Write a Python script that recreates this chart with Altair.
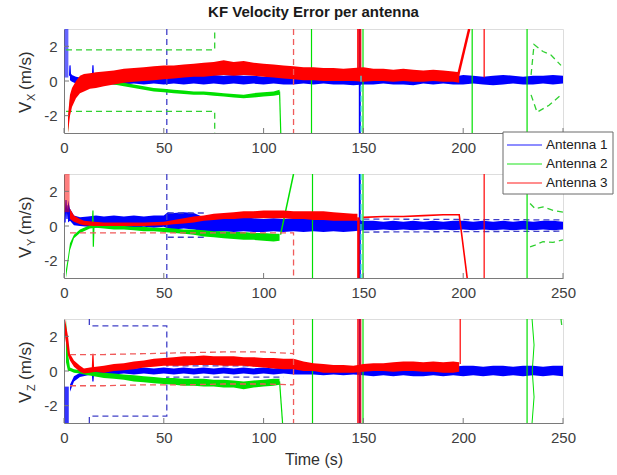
import altair as alt
import pandas as pd

TITLE = "KF Velocity Error per antenna"
X_TITLE = "Time (s)"
Y_SUBS = ["X", "Y", "Z"]
Y_UNIT = "(m/s)"
LEGEND_LABELS = ["Antenna 1", "Antenna 2", "Antenna 3"]
ANT_KEYS = ["A1", "A2", "A3", "C"]
ANT_COLORS = ["#0000ff", "#00e000", "#ff0000", "#00e0e0"]
DASH_COLORS = ["#4040c8", "#30d030", "#f05a5a", "#30e0e0"]
X_TICKS = [0, 50, 100, 150, 200, 250]
Y_TICKS = [-2, 0, 2]
FONT = "Liberation Sans"

# ---------------- V_X panel ----------------
VX_A1_PATCH = [(0.3, 0.2, 3.0), (2.2, 0.2, 3.0)]
VX_A1_BAND = [
    (3, 0.05, 0.5), (4, -0.05, 0.35), (6, -0.15, 0.25), (8, -0.15, 0.2), (12, -0.1, 0.25),
    (16, -0.2, 0.2), (20, -0.15, 0.3), (25, -0.2, 0.25), (30, -0.2, 0.3), (35, -0.15, 0.35),
    (40, -0.2, 0.3), (45, -0.15, 0.35), (50, -0.2, 0.4), (55, -0.15, 0.35), (60, -0.2, 0.3),
    (65, -0.15, 0.35), (70, -0.2, 0.3), (75, -0.15, 0.35), (80, -0.2, 0.3), (85, -0.15, 0.35),
    (90, -0.2, 0.3), (95, -0.15, 0.3), (100, -0.2, 0.25), (105, -0.15, 0.3), (110, -0.2, 0.25),
    (115, -0.2, 0.3), (120, -0.15, 0.25), (125, -0.2, 0.3), (130, -0.15, 0.25), (135, -0.2, 0.3),
    (140, -0.2, 0.3), (145, -0.25, 0.25), (150, -0.2, 0.3), (155, -0.2, 0.25), (160, -0.15, 0.3),
    (165, -0.2, 0.25), (170, -0.2, 0.3), (175, -0.25, 0.25), (180, -0.15, 0.3), (185, -0.2, 0.25),
    (190, -0.15, 0.3), (195, -0.2, 0.25), (200, -0.2, 0.35), (205, -0.15, 0.3), (210, -0.2, 0.25),
    (215, -0.25, 0.3), (220, -0.2, 0.35), (225, -0.15, 0.3), (230, -0.2, 0.25), (235, -0.2, 0.3),
    (240, -0.15, 0.3), (245, -0.2, 0.35), (250, -0.15, 0.3),
]
VX_A2_BAND = [
    (2, -3.0, -2.6), (3, -1.3, -1.0), (5, -0.7, -0.45), (8, -0.4, -0.2), (12, -0.25, -0.05),
    (16, -0.15, 0.05), (20, -0.1, 0.1), (25, -0.2, 0.0), (30, -0.3, -0.1), (35, -0.4, -0.2),
    (40, -0.5, -0.3), (45, -0.6, -0.4), (50, -0.65, -0.45), (55, -0.7, -0.5), (60, -0.75, -0.55),
    (65, -0.8, -0.6), (70, -0.8, -0.6), (75, -0.85, -0.65), (80, -0.9, -0.7), (85, -0.95, -0.75),
    (90, -1.0, -0.8), (95, -0.95, -0.7), (100, -0.9, -0.65), (105, -0.85, -0.6), (108, -0.8, -0.5),
]
VX_A3_BAND = [
    (2, -3.0, -2.0), (3, -2.0, -0.8), (4, -1.5, -0.4), (6, -1.0, 0.0), (8, -0.7, 0.3),
    (10, -0.6, 0.4), (13, -0.45, 0.45), (16, -0.4, 0.5), (20, -0.3, 0.55), (25, -0.2, 0.6),
    (30, -0.1, 0.7), (35, -0.05, 0.75), (40, 0.0, 0.8), (45, 0.05, 0.85), (50, 0.1, 0.9),
    (55, 0.15, 0.9), (60, 0.2, 0.95), (65, 0.25, 1.0), (70, 0.25, 1.05), (75, 0.3, 1.1),
    (80, 0.35, 1.2), (85, 0.3, 1.1), (90, 0.35, 1.15), (95, 0.3, 1.05), (100, 0.25, 1.0),
    (105, 0.2, 0.95), (110, 0.15, 0.9), (115, 0.1, 0.85), (120, 0.05, 0.8), (125, 0.05, 0.8),
    (130, 0.0, 0.75), (135, 0.0, 0.75), (140, 0.0, 0.7), (145, 0.0, 0.75), (150, -0.05, 0.8),
    (155, 0.0, 0.7), (160, 0.0, 0.7), (165, -0.05, 0.65), (170, 0.0, 0.7), (175, -0.05, 0.65),
    (180, -0.05, 0.6), (185, 0.0, 0.65), (190, -0.05, 0.6), (195, -0.05, 0.55), (198, -0.1, 0.5),
]
VX_A3_SPIKE = [(146.8, 0.4, 3.0), (149.0, 0.4, 3.0)]

VX_LINES = [
    ("A1", [(2.8, 0.3), (3.0, 0.9), (3.3, 0.2)], 1.2),
    ("A1", [(14.2, 0.1), (14.5, 0.9), (14.8, 0.1)], 1.2),
    ("A1", [(148.2, 3.0), (148.2, -3.0)], 2.0),
    ("A2", [(108.0, -0.6), (108.6, -3.0)], 1.2),
    ("A2", [(124.0, 3.0), (124.0, -3.0)], 1.2),
    ("A2", [(149.8, 3.0), (149.8, -3.0)], 1.2),
    ("A2", [(204.5, 3.0), (204.5, -3.0)], 1.2),
    ("A2", [(232.0, 3.0), (232.0, -3.0)], 1.2),
    ("A3", [(197.0, 0.1), (203.0, 3.0)], 2.5),
    ("A3", [(210.5, 3.0), (210.5, 0.2)], 1.2),
]
VX_DASHES = [
    ("A1", [(51.5, 3.0), (51.5, -3.0)]),
    ("A2", [(1.0, 1.8), (75.5, 1.8), (75.5, 3.0)]),
    ("A2", [(1.0, -1.75), (75.5, -1.75), (75.5, -3.0)]),
    ("A2", [(234.0, 0.35), (235.5, 2.1), (240.0, 1.7), (244.0, 1.5), (249.0, 0.9)]),
    ("A2", [(234.0, -0.8), (237.0, -1.8), (243.0, -1.4), (249.0, -0.8)]),
    ("A3", [(115.0, 3.0), (115.0, -3.0)]),
    ("C", [(148.8, 0.3), (148.8, -3.0)]),
]

# ---------------- V_Y panel ----------------
VY_A1_BAND = [
    (2, 0.2, 1.5), (3, 0.3, 1.0), (5, 0.05, 0.6), (8, 0.0, 0.5), (12, -0.05, 0.55),
    (16, -0.1, 0.6), (20, 0.0, 0.55), (25, -0.05, 0.6), (30, -0.05, 0.55), (35, -0.1, 0.6),
    (40, -0.05, 0.55), (45, -0.1, 0.6), (50, -0.05, 0.6), (52, -0.15, 0.8), (55, -0.2, 0.75),
    (60, -0.15, 0.8), (65, -0.2, 0.75), (70, -0.3, 0.5), (75, -0.35, 0.45), (80, -0.3, 0.5),
    (85, -0.35, 0.45), (90, -0.3, 0.5), (95, -0.35, 0.45), (100, -0.35, 0.4), (105, -0.3, 0.45),
    (110, -0.35, 0.4), (115, -0.3, 0.45), (120, -0.35, 0.4), (125, -0.3, 0.4), (130, -0.35, 0.4),
    (135, -0.3, 0.35), (140, -0.35, 0.4), (145, -0.3, 0.35), (150, -0.25, 0.3), (155, -0.25, 0.3),
    (160, -0.2, 0.25), (165, -0.25, 0.3), (170, -0.2, 0.25), (175, -0.25, 0.3), (180, -0.2, 0.25),
    (185, -0.25, 0.3), (190, -0.2, 0.25), (195, -0.25, 0.3), (200, -0.2, 0.3), (205, -0.25, 0.25),
    (210, -0.2, 0.3), (215, -0.25, 0.25), (220, -0.2, 0.3), (225, -0.25, 0.25), (230, -0.2, 0.3),
    (235, -0.25, 0.25), (240, -0.2, 0.3), (245, -0.25, 0.3), (250, -0.2, 0.25),
]
VY_A2_BAND = [
    (1, -3.0, -2.5), (2, -2.2, -1.8), (3, -1.4, -1.0), (5, -0.7, -0.5), (8, -0.4, -0.2),
    (10, -0.3, -0.1), (13, -0.15, 0.05), (16, -0.1, 0.1), (20, -0.15, 0.05), (25, -0.2, 0.0),
    (30, -0.2, 0.0), (35, -0.25, -0.05), (40, -0.3, -0.05), (45, -0.3, -0.1), (50, -0.35, -0.1),
    (55, -0.4, -0.15), (60, -0.45, -0.2), (65, -0.5, -0.2), (70, -0.6, -0.25), (75, -0.65, -0.3),
    (80, -0.7, -0.3), (85, -0.75, -0.35), (90, -0.8, -0.35), (95, -0.8, -0.4), (100, -0.85, -0.4),
    (105, -0.9, -0.45), (108, -0.85, -0.45),
]
VY_A3_PATCH = [(0.3, 0.8, 3.0), (2.8, 0.8, 3.0)]
VY_A3_BAND = [
    (3, 0.4, 1.0), (5, 0.25, 0.6), (8, 0.1, 0.4), (10, 0.05, 0.3), (15, 0.0, 0.25),
    (20, 0.0, 0.2), (30, 0.0, 0.2), (40, 0.0, 0.2), (50, 0.05, 0.25), (55, 0.1, 0.35),
    (60, 0.15, 0.45), (65, 0.2, 0.55), (70, 0.3, 0.6), (75, 0.35, 0.7), (80, 0.4, 0.75),
    (85, 0.4, 0.8), (90, 0.45, 0.85), (95, 0.45, 0.85), (100, 0.45, 0.9), (105, 0.45, 0.9),
    (110, 0.45, 0.9), (115, 0.4, 0.85), (120, 0.4, 0.85), (125, 0.35, 0.85), (130, 0.35, 0.85),
    (135, 0.3, 0.8), (140, 0.3, 0.75), (145, 0.3, 0.7), (147, 0.3, 0.7),
]
VY_LINES = [
    ("A1", [(0.5, 0.2), (1.0, 1.5), (1.5, 0.4), (2.0, 1.2), (2.5, 0.3)], 1.2),
    ("A1", [(148.2, 3.0), (148.2, -3.0)], 2.0),
    ("A2", [(14.2, 0.0), (14.5, 0.9), (14.7, -1.2), (15.0, 0.0)], 1.2),
    ("A2", [(108.5, -0.5), (115.0, 3.0)], 1.5),
    ("A2", [(124.5, 3.0), (124.5, -3.0)], 1.2),
    ("A2", [(149.8, 3.0), (149.8, -3.0)], 1.2),
    ("A2", [(232.0, 3.0), (232.0, -3.0)], 1.2),
    ("A3", [(150.0, 0.5), (160.0, 0.55), (170.0, 0.55), (180.0, 0.6), (190.0, 0.65),
            (198.0, 0.65), (202.0, -3.0)], 1.6),
    ("A3", [(147.5, 0.5), (147.5, -3.0)], 2.5),
    ("A3", [(210.5, 3.0), (210.5, -3.0)], 1.2),
]
VY_DASHES = [
    ("A1", [(51.5, 3.0), (51.5, -3.0)]),
    ("A1", [(52.0, 0.75), (71.0, 0.75)]),
    ("A1", [(52.0, -0.65), (71.0, -0.65)]),
    ("A1", [(150.0, 0.4), (250.0, 0.35)]),
    ("A1", [(150.0, -0.35), (250.0, -0.3)]),
    ("A2", [(233.5, 1.3), (236.0, 1.0), (240.0, 1.1), (245.0, 0.9), (250.0, 0.8)]),
    ("A2", [(233.5, -1.2), (236.0, -1.1), (240.0, -0.9), (245.0, -0.95), (250.0, -0.8)]),
    ("A3", [(3.0, -0.4), (115.0, -0.4), (115.0, -3.0)]),
    ("C", [(148.8, 3.0), (148.8, -3.0)]),
]

# ---------------- V_Z panel ----------------
VZ_A1_PATCH = [(0.3, -3.0, -0.9), (2.4, -3.0, -0.9)]
VZ_A1_BAND = [
    (3, -1.2, -0.8), (5, -0.6, -0.3), (8, -0.35, -0.1), (12, -0.25, 0.0), (16, -0.2, 0.05),
    (20, -0.2, 0.1), (25, -0.2, 0.15), (30, -0.15, 0.15), (35, -0.2, 0.15), (40, -0.15, 0.2),
    (45, -0.2, 0.15), (50, -0.15, 0.2), (55, -0.2, 0.15), (60, -0.15, 0.2), (65, -0.2, 0.15),
    (70, -0.15, 0.2), (75, -0.2, 0.15), (80, -0.15, 0.2), (85, -0.2, 0.15), (90, -0.15, 0.2),
    (95, -0.2, 0.15), (100, -0.15, 0.2), (105, -0.2, 0.15), (110, -0.15, 0.2), (115, -0.2, 0.15),
    (120, -0.2, 0.2), (125, -0.2, 0.15), (130, -0.25, 0.2), (135, -0.2, 0.2), (140, -0.25, 0.15),
    (145, -0.2, 0.2), (150, -0.25, 0.25), (155, -0.3, 0.25), (160, -0.25, 0.3), (165, -0.3, 0.25),
    (170, -0.25, 0.3), (175, -0.3, 0.25), (180, -0.3, 0.3), (185, -0.25, 0.25), (190, -0.3, 0.3),
    (195, -0.25, 0.25), (200, -0.3, 0.3), (205, -0.25, 0.3), (210, -0.3, 0.25), (215, -0.25, 0.3),
    (220, -0.3, 0.3), (225, -0.25, 0.25), (230, -0.3, 0.3), (235, -0.25, 0.3), (240, -0.3, 0.25),
    (245, -0.25, 0.3), (250, -0.3, 0.3),
]
VZ_A2_BAND = [
    (1, 0.5, 3.0), (2, 0.0, 1.0), (3, 0.0, 0.2), (5, -0.1, 0.1), (8, -0.15, 0.05),
    (10, -0.2, 0.0), (15, -0.3, -0.05), (20, -0.4, -0.1), (25, -0.45, -0.15), (30, -0.5, -0.2),
    (35, -0.6, -0.25), (40, -0.65, -0.3), (45, -0.7, -0.35), (50, -0.75, -0.4), (55, -0.8, -0.4),
    (60, -0.85, -0.45), (65, -0.85, -0.45), (70, -0.9, -0.45), (75, -0.9, -0.5), (80, -0.95, -0.5),
    (85, -0.95, -0.55), (90, -1.05, -0.6), (95, -0.95, -0.55), (100, -0.9, -0.5), (105, -0.85, -0.45),
    (108, -0.8, -0.45),
]
VZ_A3_BAND = [
    (0.5, 2.0, 3.0), (2, 0.9, 2.0), (3, 0.6, 1.0), (5, 0.25, 0.6), (8, -0.05, 0.3),
    (10, -0.15, 0.15), (13, -0.1, 0.2), (16, -0.05, 0.25), (20, -0.1, 0.3), (25, 0.0, 0.4),
    (30, 0.05, 0.45), (35, 0.1, 0.55), (40, 0.2, 0.6), (45, 0.25, 0.7), (50, 0.3, 0.75),
    (55, 0.3, 0.8), (60, 0.3, 0.85), (65, 0.35, 0.85), (70, 0.35, 0.9), (75, 0.35, 0.85),
    (80, 0.3, 0.85), (85, 0.3, 0.85), (90, 0.3, 0.8), (95, 0.25, 0.8), (100, 0.2, 0.75),
    (105, 0.15, 0.75), (110, 0.1, 0.7), (115, 0.1, 0.7), (120, 0.0, 0.55), (125, 0.0, 0.45),
    (130, -0.1, 0.4), (135, -0.1, 0.35), (140, -0.1, 0.35), (145, -0.1, 0.3), (150, -0.05, 0.4),
    (155, 0.0, 0.45), (160, 0.0, 0.45), (165, -0.05, 0.5), (170, 0.0, 0.55), (175, 0.0, 0.55),
    (180, -0.05, 0.5), (185, -0.05, 0.55), (190, -0.1, 0.5), (195, -0.1, 0.55), (198, -0.05, 0.5),
]
VZ_A3_SPIKE = [(146.8, -3.0, 3.0), (149.0, -3.0, 3.0)]
VZ_LINES = [
    ("A1", [(14.2, -0.1), (14.5, -0.6), (14.8, -0.1)], 1.2),
    ("A1", [(148.2, 3.0), (148.2, -3.0)], 2.0),
    ("A2", [(108.0, -0.6), (109.5, -3.0)], 1.2),
    ("A2", [(124.5, 3.0), (124.5, -3.0)], 1.2),
    ("A2", [(149.8, 3.0), (149.8, -3.0)], 1.2),
    ("A2", [(232.0, 3.0), (232.0, -3.0)], 1.2),
    ("A2", [(234.5, 3.0), (235.5, 1.5), (234.6, 0.0), (235.5, -1.5), (234.5, -3.0)], 1.0),
    ("A3", [(14.2, 0.1), (14.5, 1.0), (14.8, 0.1)], 1.2),
    ("A3", [(198.5, 0.4), (198.5, 3.0)], 1.2),
]
VZ_DASHES = [
    ("A1", [(12.7, 3.0), (12.7, 2.6), (51.5, 2.6), (51.5, 0.3), (110.0, 0.3)]),
    ("A1", [(12.7, -3.0), (12.7, -2.6), (51.5, -2.6), (51.5, -0.35), (110.0, -0.35)]),
    ("A2", [(249.0, 3.0), (249.5, 2.5)]),
    ("A3", [(3.0, 0.95), (20.0, 0.95), (40.0, 1.0), (60.0, 1.05), (80.0, 1.1), (100.0, 1.1), (115.0, 1.0)]),
    ("A3", [(3.0, -0.85), (20.0, -0.85), (40.0, -0.8), (60.0, -0.8), (80.0, -0.75), (100.0, -0.75), (115.0, -0.8)]),
    ("A3", [(115.0, 3.0), (115.0, -3.0)]),
]

PANELS = [
    {
        "bands": [("A1", VX_A1_PATCH, 0.6), ("A1", VX_A1_BAND, 1.0), ("A2", VX_A2_BAND, 1.0),
                  ("A3", VX_A3_BAND, 1.0), ("A3", VX_A3_SPIKE, 0.85)],
        "lines": VX_LINES, "dashes": VX_DASHES,
    },
    {
        "bands": [("A1", VY_A1_BAND, 1.0), ("A2", VY_A2_BAND, 1.0),
                  ("A3", VY_A3_PATCH, 0.5), ("A3", VY_A3_BAND, 1.0)],
        "lines": VY_LINES, "dashes": VY_DASHES,
    },
    {
        "bands": [("A1", VZ_A1_PATCH, 0.8), ("A1", VZ_A1_BAND, 1.0), ("A2", VZ_A2_BAND, 1.0),
                  ("A3", VZ_A3_BAND, 1.0), ("A3", VZ_A3_SPIKE, 0.75)],
        "lines": VZ_LINES, "dashes": VZ_DASHES,
    },
]

W, H = 499, 104
XS = alt.Scale(domain=[0, 250], nice=False, zero=False)
YS = alt.Scale(domain=[-3, 3], nice=False, zero=False)


def x_axis(title, values):
    return alt.Axis(values=values, title=title, labelFontSize=15, labelColor="#404040",
                    labelFont=FONT, domainColor="#7a7a7a", ticks=False, grid=False,
                    labelPadding=7, titleFontSize=16, titleFontWeight="normal",
                    titleColor="#303030", titleFont=FONT, titlePadding=6, labelFlush=False)


Y_AXIS = alt.Axis(values=Y_TICKS, title=None, labelFontSize=15, labelColor="#404040",
                  labelFont=FONT, domainColor="#7a7a7a", ticks=False, grid=False,
                  labelPadding=7, labelExpr="'' + datum.value")


def panel(idx, spec):
    xt = X_TITLE if idx == 2 else None
    # in the top panel the legend box hides the last tick label
    xv = X_TICKS[:-1] if idx == 0 else X_TICKS
    X = lambda f: alt.X(f, type="quantitative", scale=XS, axis=x_axis(xt, xv))
    Y = lambda f: alt.Y(f, type="quantitative", scale=YS, axis=Y_AXIS)

    band_rows, line_rows, dash_rows = [], [], []
    for g, (ant, rows, op) in enumerate(spec["bands"]):
        for t, lo, hi in rows:
            band_rows.append(dict(ant=ant, g=g, t=t, lo=lo, hi=hi, op=op))
    for g, (ant, pts, w) in enumerate(spec["lines"]):
        for i, (t, v) in enumerate(pts):
            line_rows.append(dict(ant=ant, g=g, i=i, t=t, v=v, w=w))
    for g, (ant, pts) in enumerate(spec["dashes"]):
        for i, (t, v) in enumerate(pts):
            dash_rows.append(dict(ant=ant, g=g, i=i, t=t, v=v))
    bdf, ldf, ddf = pd.DataFrame(band_rows), pd.DataFrame(line_rows), pd.DataFrame(dash_rows)

    layers = []
    for k, ant in enumerate(ANT_KEYS):
        b = bdf[bdf.ant == ant]
        if len(b):
            layers.append(alt.Chart(b).mark_area(clip=True, interpolate="linear").encode(
                x=X("t"), y=Y("lo"), y2="hi", color=alt.value(ANT_COLORS[k]),
                detail="g:N", opacity=alt.Opacity("op:Q", scale=None)))
        l = ldf[ldf.ant == ant]
        if len(l):
            layers.append(alt.Chart(l).mark_line(clip=True).encode(
                x=X("t"), y=Y("v"), color=alt.value(ANT_COLORS[k]),
                detail="g:N", order=alt.Order("i:Q"),
                strokeWidth=alt.StrokeWidth("w:Q", scale=None)))
        d = ddf[ddf.ant == ant]
        if len(d):
            layers.append(alt.Chart(d).mark_line(clip=True, strokeDash=[6, 4], strokeWidth=1.3).encode(
                x=X("t"), y=Y("v"), color=alt.value(DASH_COLORS[k]),
                detail="g:N", order=alt.Order("i:Q")))

    # inward tick marks (MATLAB style)
    layers.append(alt.Chart(pd.DataFrame({"t": X_TICKS})).mark_rule(color="#7a7a7a").encode(
        x=X("t"), y=alt.value(H), y2=alt.value(H - 5)))
    layers.append(alt.Chart(pd.DataFrame({"v": Y_TICKS})).mark_rule(color="#7a7a7a").encode(
        y=Y("v"), x=alt.value(0), x2=alt.value(5)))

    # y title with subscript
    one = pd.DataFrame({"s": ["V"]})
    layers.append(alt.Chart(one).mark_text(angle=270, align="left", baseline="alphabetic",
                                           fontSize=17, font=FONT, color="#303030").encode(
        text=alt.value("V"), x=alt.value(-33), y=alt.value(84)))
    layers.append(alt.Chart(one).mark_text(angle=270, align="left", baseline="alphabetic",
                                           fontSize=11, font=FONT, color="#303030").encode(
        text=alt.value(Y_SUBS[idx]), x=alt.value(-29), y=alt.value(72)))
    layers.append(alt.Chart(one).mark_text(angle=270, align="left", baseline="alphabetic",
                                           fontSize=17, font=FONT, color="#303030").encode(
        text=alt.value(Y_UNIT), x=alt.value(-33), y=alt.value(61)))

    if idx == 0:
        layers.append(alt.Chart(one).mark_text(fontSize=15, fontWeight="bold", font=FONT,
                                               color="#1a1a1a", baseline="middle", align="center").encode(
            text=alt.value(TITLE), x=alt.value(W / 2), y=alt.value(-17)))
    if idx == 1:
        layers.append(alt.Chart(one).mark_rect(fill="white", stroke="#6a6a6a", strokeWidth=1).encode(
            x=alt.value(439), x2=alt.value(549), y=alt.value(-42), y2=alt.value(20)))
        for k, lab in enumerate(LEGEND_LABELS):
            yy = -29 + 19 * k
            layers.append(alt.Chart(one).mark_rule(color=ANT_COLORS[k], strokeWidth=1.3, opacity=0.6).encode(
                x=alt.value(443), x2=alt.value(478), y=alt.value(yy)))
            layers.append(alt.Chart(one).mark_text(fontSize=13.5, font=FONT, color="#202020",
                                                   align="left", baseline="middle").encode(
                text=alt.value(lab), x=alt.value(482), y=alt.value(yy)))

    return alt.layer(*layers).properties(width=W, height=H)


chart = alt.vconcat(*[panel(i, p) for i, p in enumerate(PANELS)], spacing=41, bounds="flush").properties(
    padding={"left": 16, "top": 4, "right": 0, "bottom": 0}
).configure_view(stroke=None).configure(font=FONT, background="white")

chart.save("out.html", embed_options={"renderer": "svg", "actions": False})
